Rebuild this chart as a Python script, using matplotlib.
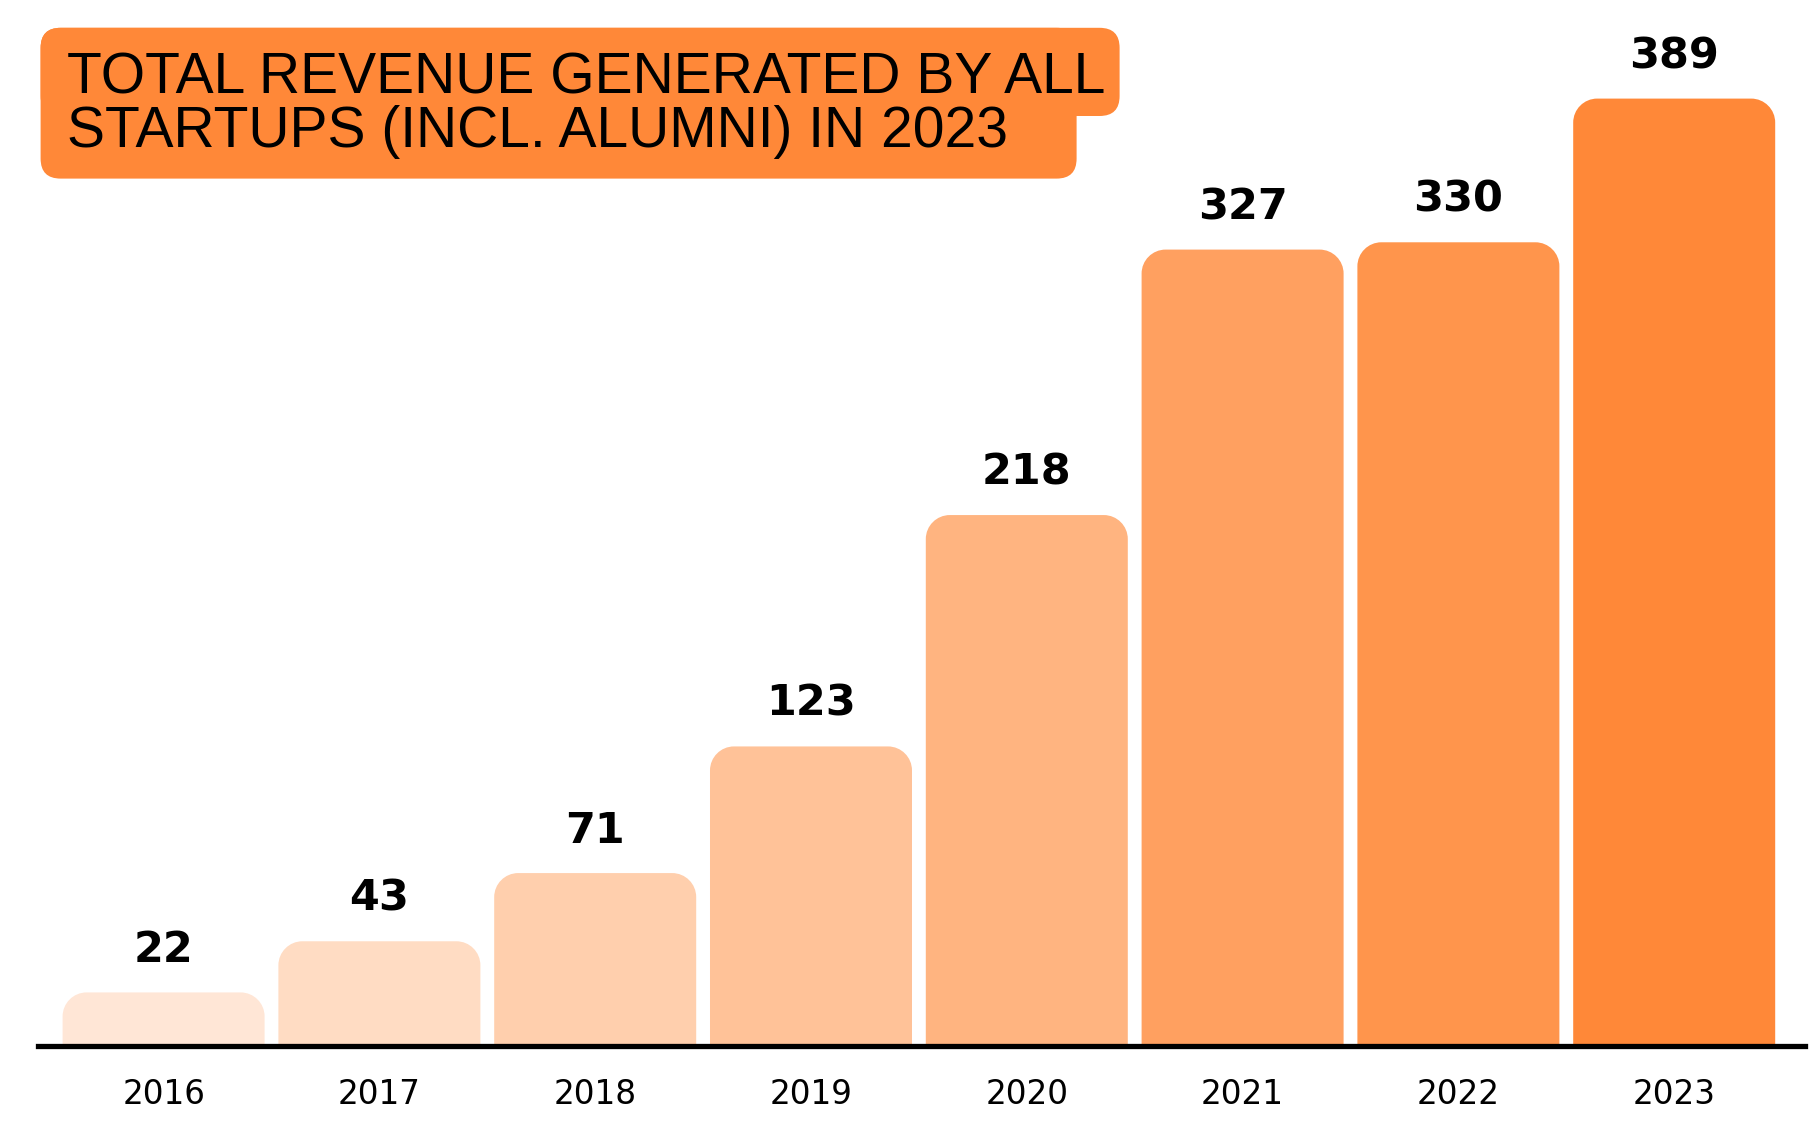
import matplotlib

matplotlib.use("Agg")
import matplotlib.pyplot as plt
from matplotlib.patches import FancyBboxPatch, PathPatch
from matplotlib.path import Path

years = ["2016", "2017", "2018", "2019", "2020", "2021", "2022", "2023"]
revenue = [22, 43, 71, 123, 218, 327, 330, 389]
bar_colors = ["#FFE6D6", "#FFDCC3", "#FFCFAD", "#FFC298", "#FFB480",
              "#FFA060", "#FF954C", "#FF8838"]
title_lines = ["TOTAL REVENUE GENERATED BY ALL", "STARTUPS (INCL. ALUMNI) IN 2023"]

W, H, DPI = 1819, 1125, 100
ORANGE = "#FF8838"


def rounded_top_bar(ax, x, width, height, rx, ry, color):
    k = 0.5523
    x0, x1 = x - width / 2, x + width / 2
    ry = min(ry, height)
    verts = [
        (x0, 0), (x0, height - ry),
        (x0, height - ry + k * ry), (x0 + rx - k * rx, height), (x0 + rx, height),
        (x1 - rx, height),
        (x1 - rx + k * rx, height), (x1, height - ry + k * ry), (x1, height - ry),
        (x1, 0), (x0, 0),
    ]
    codes = [Path.MOVETO, Path.LINETO,
             Path.CURVE4, Path.CURVE4, Path.CURVE4,
             Path.LINETO,
             Path.CURVE4, Path.CURVE4, Path.CURVE4,
             Path.LINETO, Path.CLOSEPOLY]
    ax.add_patch(PathPatch(Path(verts, codes), facecolor=color,
                           edgecolor="none", zorder=2))


fig = plt.figure(figsize=(W / DPI, H / DPI), dpi=DPI)
ax_w_px = 1767
ax = fig.add_axes([38 / W, 79 / H, ax_w_px / W, 1046 / H])

px_per_x = 215.8
px_per_y = 2.4355
x_left = -0.582
ax.set_xlim(x_left, x_left + ax_w_px / px_per_x)
ax.set_ylim(0, 1046 / px_per_y)

bar_w = 202 / px_per_x
radius = 24
for i, (v, c) in enumerate(zip(revenue, bar_colors)):
    rounded_top_bar(ax, i, bar_w, v, radius / px_per_x, radius / px_per_y, c)
    ax.annotate(str(v), (i, v), xytext=(0, 22), textcoords="offset points",
                ha="center", va="baseline", fontsize=31, fontweight="bold",
                family="DejaVu Sans", color="black")

for side in ["top", "right", "left"]:
    ax.spines[side].set_visible(False)
ax.spines["bottom"].set_linewidth(3.8)
ax.spines["bottom"].set_color("black")
ax.spines["bottom"].set_zorder(3)
ax.set_yticks([])
ax.set_xticks(range(len(years)), years)
ax.tick_params(axis="x", length=0, pad=23, labelsize=23.5)
for lab in ax.get_xticklabels():
    lab.set_family("DejaVu Sans")

# title badge: wide top strip plus a slightly narrower block below it
fig.add_artist(FancyBboxPatch((0.406, (H - 116) / DPI), 10.79, 0.882,
                              boxstyle="round,pad=0,rounding_size=0.2",
                              transform=fig.dpi_scale_trans,
                              facecolor=ORANGE, edgecolor="none"))
fig.add_artist(FancyBboxPatch((0.406, (H - 178.6) / DPI), 10.36, 1.508,
                              boxstyle="round,pad=0,rounding_size=0.2",
                              transform=fig.dpi_scale_trans,
                              facecolor=ORANGE, edgecolor="none"))
for line, base in zip(title_lines, [93, 147]):
    fig.text(67 / W, (H - base) / H, line, ha="left", va="baseline",
             fontsize=41, family="Liberation Sans", color="black")

fig.savefig("out.png", dpi=DPI)
